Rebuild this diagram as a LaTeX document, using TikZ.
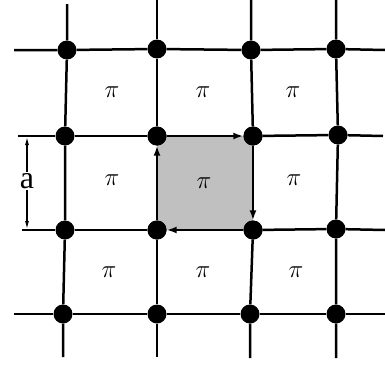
\documentclass[tikz,border=0pt]{standalone}
\usepackage{fontspec}
\setmainfont{Liberation Serif}
\usetikzlibrary{arrows.meta}
\definecolor{cellgray}{RGB}{192,192,192}
\tikzset{
  dot/.style={circle,fill=black,inner sep=0pt,minimum size=19pt},
  grid/.style={line width=2.5pt},
  flow/.style={line width=2.5pt,-{Latex[length=10pt,width=7pt]}},
  pilabel/.style={font=\fontsize{28}{30}\selectfont},
  bigpi/.style={font=\fontsize{30}{32}\selectfont},
  dim/.style={line width=1.2pt,-{Latex[length=8pt,width=4pt]}},
}
\begin{document}
\begin{tikzpicture}[x=1pt,y=-1pt]
\useasboundingbox (0,0) rectangle (385,364);
% gray cell
\fill[cellgray] (157,136) rectangle (253,230);
% dots
\node[dot] (n11) at (67,50) {};
\node[dot] (n12) at (157,49) {};
\node[dot] (n13) at (251,50) {};
\node[dot] (n14) at (336,49) {};
\node[dot] (n21) at (65,136) {};
\node[dot] (n22) at (157,136) {};
\node[dot] (n23) at (253,136) {};
\node[dot] (n24) at (338,135) {};
\node[dot] (n31) at (65,230) {};
\node[dot] (n32) at (157,230) {};
\node[dot] (n33) at (253,230) {};
\node[dot] (n34) at (336,229) {};
\node[dot] (n41) at (63,314) {};
\node[dot] (n42) at (157,314) {};
\node[dot] (n43) at (250,314) {};
\node[dot] (n44) at (336,314) {};
% free ends
\coordinate (l1) at (14,50);  \coordinate (r1) at (385,50);
\coordinate (l2) at (18,136); \coordinate (r2) at (383,136);
\coordinate (l3) at (22,230); \coordinate (r3) at (385,230);
\coordinate (l4) at (14,314); \coordinate (r4) at (385,314);
\coordinate (t1) at (67,4);   \coordinate (b1) at (63,357);
\coordinate (t2) at (157,0);  \coordinate (b2) at (157,357);
\coordinate (t3) at (251,0);  \coordinate (b3) at (250,358);
\coordinate (t4) at (336,0);  \coordinate (b4) at (336,358);
% horizontal lines
\draw[grid] (l1) -- (n11) -- (n12) -- (n13) -- (n14) -- (r1);
\draw[grid] (l2) -- (n21) -- (n22);
\draw[grid] (n23) -- (n24) -- (r2);
\draw[grid] (l3) -- (n31) -- (n32);
\draw[grid] (n33) -- (n34) -- (r3);
\draw[grid] (l4) -- (n41) -- (n42) -- (n43) -- (n44) -- (r4);
% vertical lines
\draw[grid] (t1) -- (n11) -- (n21) -- (n31) -- (n41) -- (b1);
\draw[grid] (t2) -- (n12) -- (n22);
\draw[grid] (n32) -- (n42) -- (b2);
\draw[grid] (t3) -- (n13) -- (n23);
\draw[grid] (n33) -- (n43) -- (b3);
\draw[grid] (t4) -- (n14) -- (n24) -- (n34) -- (n44) -- (b4);
% circulation around gray cell
\draw[flow] (n32) -- (n22);
\draw[flow] (n22) -- (n23);
\draw[flow] (n23) -- (n33);
\draw[flow] (n33) -- (n32);
% redraw dots on top
\foreach \n in {n22,n23,n32,n33}{\fill (\n) circle (9.5pt);}
% labels
\node[pilabel] (p11) at (112,92) {$\pi$};
\node[pilabel] (p12) at (203,92) {$\pi$};
\node[pilabel] (p13) at (293,92) {$\pi$};
\node[pilabel] (p21) at (112,180) {$\pi$};
\node[bigpi]   (p22) at (204,183) {$\pi$};
\node[pilabel] (p23) at (294,180) {$\pi$};
\node[pilabel] (p31) at (109,272) {$\pi$};
\node[pilabel] (p32) at (203,272) {$\pi$};
\node[pilabel] (p33) at (296,272) {$\pi$};
% dimension
\node[font=\fontsize{32}{34}\selectfont,inner sep=1pt] (alab) at (27,181) {a};
\coordinate (dtop) at (27,137);
\coordinate (dbot) at (27,229);
\draw[dim] (alab) -- (dtop);
\draw[dim] (alab) -- (dbot);
\end{tikzpicture}
\end{document}
